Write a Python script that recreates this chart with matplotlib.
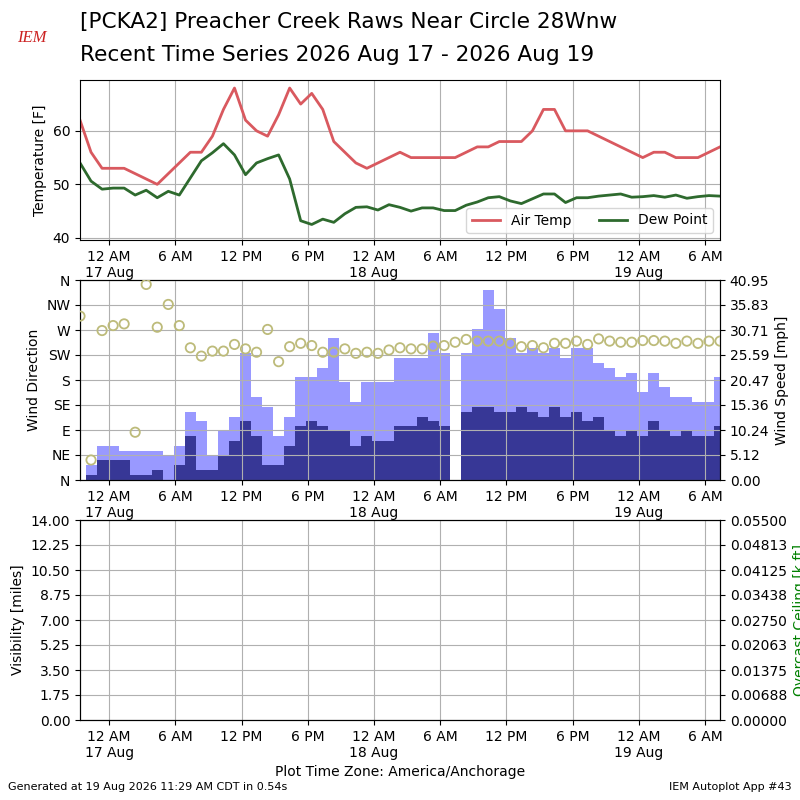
import matplotlib
matplotlib.use('Agg')
import matplotlib.pyplot as plt
import matplotlib.dates as mdates
from matplotlib.ticker import FuncFormatter
import numpy as np
import pandas as pd

# hourly observations, 21:21 16 Aug -> 07:21 19 Aug (America/Anchorage)
times = pd.date_range('2026-08-16 21:21', periods=59, freq='h')

air_temp = [62, 56, 53, 53, 53, 52, 51, 50, 52, 54, 56, 56, 59, 64, 68, 62, 60, 59, 63, 68,
            65, 67, 64, 58, 56, 54, 53, 54, 55, 56, 55, 55, 55, 55, 55, 56, 57, 57, 58, 58,
            58, 60, 64, 64, 60, 60, 60, 59, 58, 57, 56, 55, 56, 56, 55, 55, 55, 56, 57]
dew_point = [54.0, 50.6, 49.1, 49.3, 49.3, 48.0, 48.9, 47.5, 48.7, 48.0, 51.2, 54.4, 55.9, 57.6,
             55.5, 51.8, 54.0, 54.8, 55.5, 51.0, 43.2, 42.5, 43.5, 42.9, 44.5, 45.7, 45.8, 45.2,
             46.2, 45.7, 45.0, 45.6, 45.6, 45.1, 45.1, 46.1, 46.7, 47.5, 47.7, 46.9, 46.4, 47.3,
             48.2, 48.2, 46.6, 47.5, 47.5, 47.8, 48.0, 48.2, 47.6, 47.7, 47.9, 47.6, 48.0, 47.4,
             47.7, 47.9, 47.8]
wind_speed = [0, 1, 4, 4, 4, 1, 1, 2, 0, 3, 9, 2, 2, 5, 8, 12, 9, 3, 3, 7,
              11, 12, 11, 10, 10, 7, 9, 8, 8, 11, 11, 13, 12, 11, 0, 14, 15, 15, 14, 14,
              15, 14, 13, 15, 13, 14, 12, 13, 10, 9, 10, 9, 12, 10, 9, 10, 9, 9, 11]
wind_gust = [0, 3, 7, 7, 6, 6, 6, 6, 5, 7, 14, 12, 5, 10, 13, 26, 17, 15, 9, 13,
             21, 21, 23, 29, 20, 16, 20, 20, 20, 25, 25, 25, 30, 26, 0, 26, 31, 39, 35, 29,
             26, 27, 26, 27, 25, 27, 27, 24, 23, 21, 22, 18, 22, 19, 17, 17, 16, 16, 21]
wind_dir = [295, 36, 269, 278, 281, 86, 352, 275, 316, 278, 238, 223, 232, 232, 244, 236, 230,
            271, 213, 240, 246, 242, 230, 230, 236, 228, 230, 228, 234, 238, 236, 236, 241,
            242, 248, 253, 250, 250, 250, 246, 240, 242, 238, 246, 246, 250, 244, 254, 250,
            248, 248, 251, 251, 250, 246, 250, 246, 250, 250]

dir_labels = ['N', 'NE', 'E', 'SE', 'S', 'SW', 'W', 'NW', 'N']

TEMP_COLOR = '#d9595f'
DEW_COLOR = '#2e6a2e'
GUST_COLOR = '#9999ff'
SPEED_COLOR = '#373796'
DIR_COLOR = '#bdbb7a'


def fmt_time(x, pos=None):
    d = mdates.num2date(x)
    if d.hour == 0:
        return '12 AM\n' + d.strftime('%d %b')
    h = d.hour % 12
    if h == 0:
        h = 12
    return '%d %s' % (h, 'AM' if d.hour < 12 else 'PM')


def setup_xaxis(ax):
    ax.xaxis.set_major_locator(mdates.HourLocator(byhour=[0, 6, 12, 18]))
    ax.xaxis.set_major_formatter(FuncFormatter(fmt_time))
    ax.set_xlim(times[0], times[-1])
    ax.tick_params(axis='x', labelsize=10)


fig = plt.figure(figsize=(8, 8), dpi=100)

fig.text(0.1, 0.9725, '[PCKA2] Preacher Creek Raws Near Circle 28Wnw',
         fontsize=15.6, va='center', ha='left')
fig.text(0.1, 0.93125, 'Recent Time Series 2026 Aug 17 - 2026 Aug 19',
         fontsize=15.6, va='center', ha='left')
fig.text(0.04, 0.953, 'IEM', fontsize=12, color='#cc2222', style='italic',
         family='Liberation Serif', ha='center', va='center')

# ---- temperature panel ----
ax1 = fig.add_axes([0.1, 0.7, 0.8, 0.2])
ax1.plot(times, air_temp, color=TEMP_COLOR, lw=2, label='Air Temp')
ax1.plot(times, dew_point, color=DEW_COLOR, lw=2, label='Dew Point')
ax1.set_ylim(39.6, 69.5)
ax1.set_yticks([40, 50, 60])
ax1.set_ylabel('Temperature [F]', fontsize=10)
ax1.grid(True)
ax1.legend(loc='lower right', ncol=2, fontsize=10)
setup_xaxis(ax1)

# ---- wind panel ----
ax2 = fig.add_axes([0.1, 0.4, 0.8, 0.25])
ax2b = ax2.twinx()
ax2b.bar(times, wind_gust, width=1 / 24., color=GUST_COLOR, align='center')
ax2b.bar(times, wind_speed, width=1 / 24., color=SPEED_COLOR, align='center')
gmax = max(wind_gust) * 1.05
ax2b.set_ylim(0, gmax)
ax2b.set_yticks(np.linspace(0, gmax, 9))
ax2b.yaxis.set_major_formatter(FuncFormatter(lambda v, p: '%.2f' % max(v - 1e-9, 0)))
ax2b.set_ylabel('Wind Speed [mph]', fontsize=10)

ax2.set_zorder(ax2b.get_zorder() + 1)
ax2.patch.set_visible(False)
ax2.scatter(times, wind_dir, s=45, facecolors='none', edgecolors=DIR_COLOR, lw=1.3, zorder=3)
ax2.set_ylim(0, 360)
ax2.set_yticks(np.arange(0, 361, 45))
ax2.set_yticklabels(dir_labels)
ax2.set_ylabel('Wind Direction', fontsize=10)
ax2.grid(True)
setup_xaxis(ax2)
ax2b.set_xlim(times[0], times[-1])

# ---- visibility panel ----
ax3 = fig.add_axes([0.1, 0.1, 0.8, 0.25])
ax3.set_ylim(0, 14)
ax3.set_yticks(np.linspace(0, 14, 9))
ax3.yaxis.set_major_formatter(FuncFormatter(lambda v, p: '%.2f' % v))
ax3.set_ylabel('Visibility [miles]', fontsize=10)
ax3.grid(True)
setup_xaxis(ax3)
ax3b = ax3.twinx()
ax3b.set_ylim(0, 0.055)
ax3b.set_yticks(np.linspace(0, 0.055, 9))
ax3b.yaxis.set_major_formatter(FuncFormatter(lambda v, p: '%.5f' % v))
ax3b.set_ylabel('Overcast Ceiling [k ft]', color='g', fontsize=10)
ax3.set_xlabel('Plot Time Zone: America/Anchorage', fontsize=10)

fig.text(0.01, 0.01, 'Generated at 19 Aug 2026 11:29 AM CDT in 0.54s', fontsize=8, va='bottom')
fig.text(0.99, 0.01, 'IEM Autoplot App #43', fontsize=8, va='bottom', ha='right')

plt.savefig('out.png', dpi=100)
plt.close()
